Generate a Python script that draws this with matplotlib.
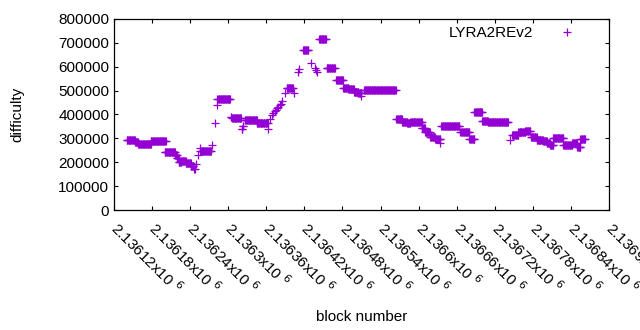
import numpy as np
import matplotlib
matplotlib.use("Agg")
import matplotlib.pyplot as plt

plt.rcParams['font.family'] = ['Liberation Sans', 'DejaVu Sans']

# ---- Data: block offset from 2136000, difficulty in thousands ----
base_block = 2136000
# runs of constant difficulty (start block, end block, value)
run_start = [140, 153, 158, 178, 200, 216, 219, 222, 226, 233, 241, 246, 247, 249, 252,
             256, 255, 274, 279, 283, 283, 304, 306, 321, 323, 326, 345, 363, 366,
             369, 371, 373, 375, 377, 379, 381, 383, 385, 389, 392, 404,
             410, 412, 418, 430, 436, 438, 440, 443, 455, 470, 481, 489, 498, 505, 510,
             514, 565, 574, 582, 587, 605, 610, 618, 626, 633, 636, 666, 680, 688, 700,
             709, 744, 747, 757, 768, 777, 786, 796, 802, 807, 812, 828, 842, 850, 855]
run_end = [153, 158, 178, 202, 216, 219, 222, 226, 233, 241, 245, 246, 247, 249, 252,
           273, 255, 274, 279, 283, 303, 305, 320, 322, 324, 345, 362, 363, 366,
           369, 371, 373, 375, 377, 379, 381, 383, 385, 389, 402, 404,
           410, 412, 426, 430, 436, 438, 440, 454, 468, 481, 489, 498, 505, 510, 510,
           564, 574, 582, 587, 605, 610, 618, 626, 634, 633, 664, 680, 688, 700, 709,
           741, 744, 757, 768, 776, 786, 796, 802, 807, 812, 828, 842, 850, 855, 862]
run_val = [292, 285, 275, 288, 242, 230, 218, 202, 206, 198, 184, 172, 170, 193, 230,
           247, 260, 272, 363, 440, 464, 391, 384, 338, 352, 377, 363, 339, 380,
           398, 406, 414, 420, 426, 432, 438, 446, 458, 490, 511, 490,
           580, 590, 669, 617, 596, 586, 580, 715, 593, 545, 509, 505, 495, 491, 479,
           501, 380, 370, 363, 370, 342, 328, 307, 296, 282, 352, 325, 296, 409, 374,
           367, 293, 314, 325, 332, 307, 293, 289, 279, 272, 300, 272, 279, 265, 296]

blocks = np.concatenate([np.arange(s, e + 1) for s, e in zip(run_start, run_end)]) + base_block
difficulty = np.concatenate([np.full(e - s + 1, v * 1000.0)
                             for s, e, v in zip(run_start, run_end, run_val)])

x_ticks = np.arange(2136120, 2136901, 60)
y_ticks = np.arange(0, 800001, 100000)

fig = plt.figure(figsize=(6.4, 3.3), dpi=100)
ax = fig.add_axes([114 / 640, 1 - 210 / 330, (609 - 114) / 640, (210 - 19) / 330])

ax.plot(blocks, difficulty, linestyle='none', marker='+', ms=6, mew=0.9,
        color='#9400d3', label='LYRA2REv2')

ax.set_xlim(2136120, 2136900)
ax.set_ylim(0, 800000)
ax.set_xticks(x_ticks)
ax.set_xticklabels([r'%gx10 $^{6}$' % (t / 1e6) for t in x_ticks],
                   rotation=-45, ha='left', va='center', rotation_mode='anchor')
ax.set_yticks(y_ticks)
ax.set_yticklabels(['%d' % t for t in y_ticks])
ax.tick_params(direction='in', length=3, width=0.8, top=True, right=True,
               labelsize=11, colors='black')
ax.tick_params(axis='x', pad=11)
for s in ax.spines.values():
    s.set_linewidth(0.9)

ax.set_xlabel('block number', fontsize=11, labelpad=9)
ax.set_ylabel('difficulty', fontsize=11, labelpad=24)
ax.legend(loc='upper right', bbox_to_anchor=(0.968, 1.02), frameon=False,
          markerfirst=False, fontsize=11, handlelength=2, borderaxespad=0.3,
          handletextpad=1.2)

fig.savefig('out.png', dpi=100)
